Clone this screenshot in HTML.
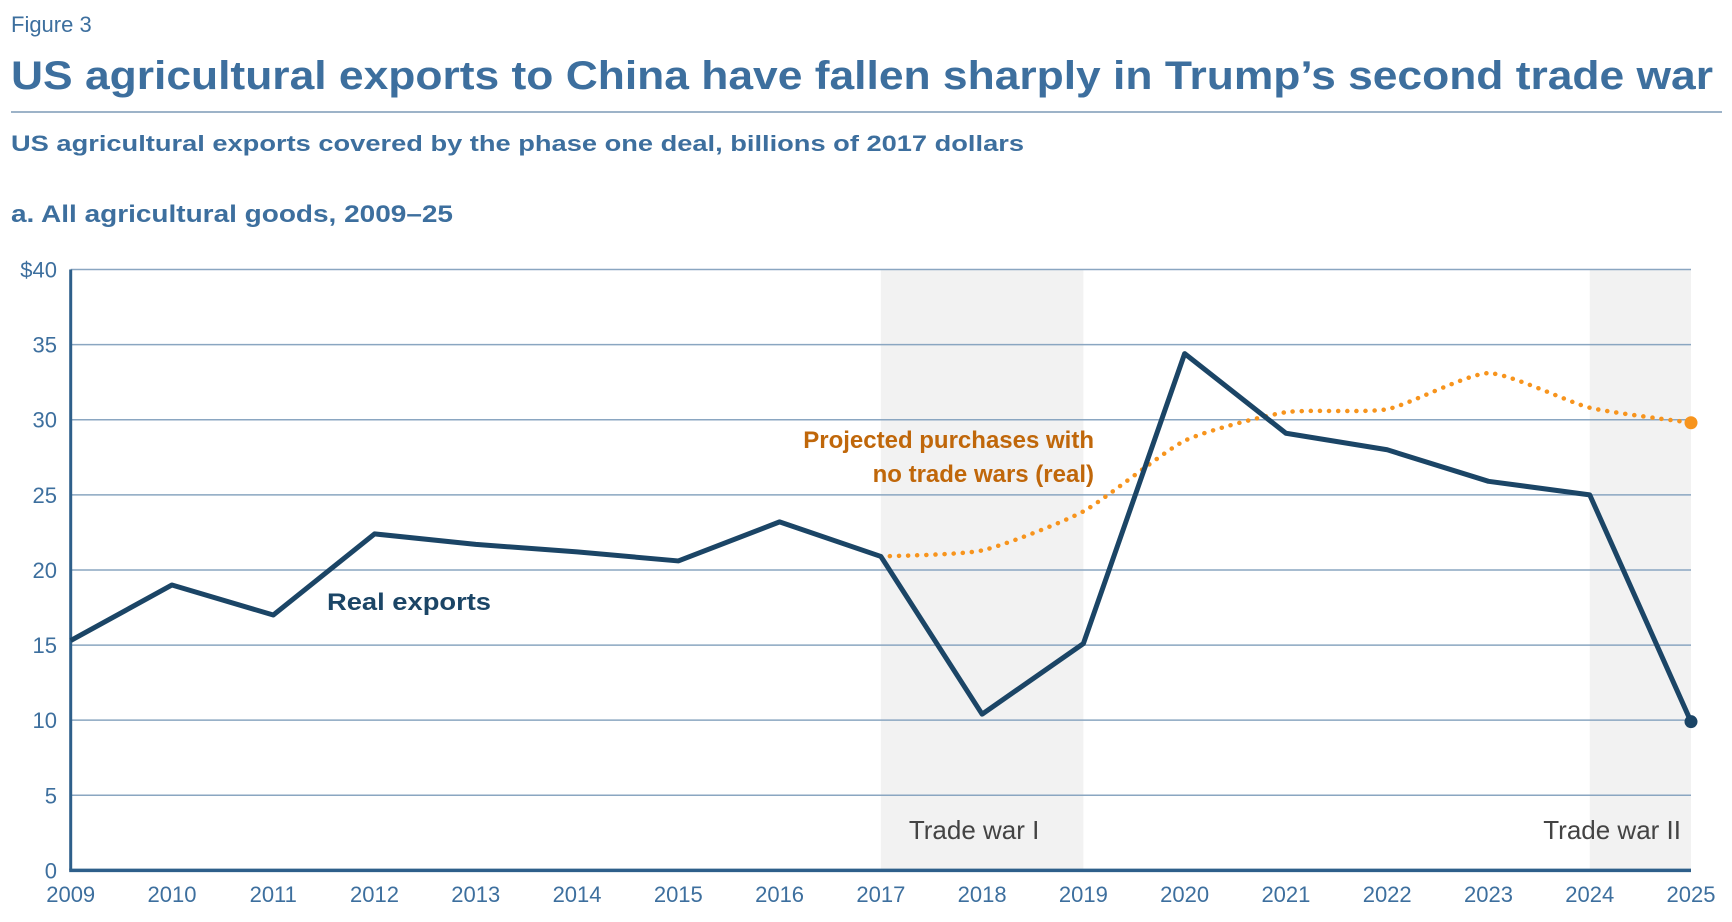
<!DOCTYPE html>
<html><head><meta charset="utf-8"><style>
html,body{margin:0;padding:0;background:#fff;}
svg{display:block;font-family:"Liberation Sans",sans-serif;}
</style></head><body>
<svg id="chart" width="1732" height="922" viewBox="0 0 1732 922">
<text x="11" y="32" font-size="22" fill="#3d6f9e">Figure 3</text>
<text x="11" y="89" font-size="40" font-weight="bold" fill="#3d6f9e" textLength="1702" lengthAdjust="spacingAndGlyphs">US agricultural exports to China have fallen sharply in Trump’s second trade war</text>
<line x1="11" y1="112" x2="1722" y2="112" stroke="#9db3c8" stroke-width="2"/>
<text x="11" y="151" font-size="22" font-weight="bold" fill="#3d6f9e" textLength="1013" lengthAdjust="spacingAndGlyphs">US agricultural exports covered by the phase one deal, billions of 2017 dollars</text>
<text x="11" y="222" font-size="24" font-weight="bold" fill="#3d6f9e" textLength="442" lengthAdjust="spacingAndGlyphs">a. All agricultural goods, 2009–25</text>
<g id="plot"></g>
</svg>
<script>
const years=[2009,2010,2011,2012,2013,2014,2015,2016,2017,2018,2019,2020,2021,2022,2023,2024,2025];
const realExports=[15.3,19.0,17.0,22.4,21.7,21.2,20.6,23.2,20.9,10.4,15.1,34.4,29.1,28.0,25.9,25.0,9.9];
const projYears=[2017,2018,2019,2020,2021,2022,2023,2024,2025];
const projected=[20.9,21.3,23.9,28.6,30.5,30.7,33.1,30.8,29.8];
const yTicks=[0,5,10,15,20,25,30,35,40];
const yTickLabels=["0","5","10","15","20","25","30","35","$40"];
const shades=[[2017,2019,"Trade war I"],[2024,2025,"Trade war II"]];

const L=70.7,R=1691,T=269.5,B=870.4;
const x=v=>L+(v-2009)/(2025-2009)*(R-L);
const y=v=>B-v/40*(B-T);
const NS="http://www.w3.org/2000/svg";
const g=document.getElementById('plot');
function mk(tag,attrs,text){const e=document.createElementNS(NS,tag);for(const k in attrs)e.setAttribute(k,attrs[k]);if(text!==undefined)e.textContent=text;g.appendChild(e);return e;}

shades.forEach(s=>{
 const r=mk('rect',{x:x(s[0]),y:T,width:x(s[1])-x(s[0]),height:B-T,fill:'#f2f2f2'});
 
 
});
yTicks.forEach((t,i)=>{
 if(t>0){const l=mk('line',{x1:L,x2:R,y1:y(t),y2:y(t),stroke:'#8aa6c1','stroke-width':1.5});
 
 }
 const tx=mk('text',{x:57,y:y(t)+8,'font-size':22,fill:'#3d6f9e','text-anchor':'end'},yTickLabels[i]);
 
 
});
years.forEach(yr=>{
 const tx=mk('text',{x:x(yr),y:902,'font-size':22,fill:'#3d6f9e','text-anchor':'middle'},String(yr));
 
 
});
const st=mk('text',{x:(x(2017)+x(2019))/2-8,y:839,'font-size':26,fill:'#444','text-anchor':'middle'},shades[0][2]);


const st2=mk('text',{x:x(2025)-10,y:839,'font-size':26,fill:'#444','text-anchor':'end'},shades[1][2]);



const ax=mk('line',{x1:L,x2:L,y1:T,y2:B,stroke:'#2e5f8a','stroke-width':3});


const bx=mk('line',{x1:L-1.5,x2:R,y1:B,y2:B,stroke:'#2e5f8a','stroke-width':3.5});



const pp=projYears.map((yr,i)=>[x(yr),y(projected[i])]);
let d='M'+pp[0][0]+','+pp[0][1];
const k=1/10;
for(let i=0;i<pp.length-1;i++){
 const p0=pp[Math.max(0,i-1)],p1=pp[i],p2=pp[i+1],p3=pp[Math.min(pp.length-1,i+2)];
 const c1=[p1[0]+(p2[0]-p0[0])*k,p1[1]+(p2[1]-p0[1])*k],c2=[p2[0]-(p3[0]-p1[0])*k,p2[1]-(p3[1]-p1[1])*k];
 d+=' C'+c1+' '+c2+' '+p2;
}
const pl=mk('path',{d:d,fill:'none',stroke:'#f7941d','stroke-width':4.5,'stroke-dasharray':'0.1 9','stroke-linecap':'round'});


const pe=mk('circle',{cx:pp[pp.length-1][0],cy:pp[pp.length-1][1],r:6.5,fill:'#f7941d'});



const rl=mk('polyline',{points:years.map((yr,i)=>x(yr)+','+y(realExports[i])).join(' '),fill:'none',stroke:'#1b4566','stroke-width':5,'stroke-linejoin':'round'});


const re=mk('circle',{cx:x(2025),cy:y(realExports[realExports.length-1]),r:6.5,fill:'#1b4566'});



const a1=mk('text',{x:327,y:610,'font-size':24,'font-weight':'bold',fill:'#1b4566',textLength:164,lengthAdjust:'spacingAndGlyphs'},'Real exports');


const a2=mk('text',{x:1094,y:448,'font-size':24,'font-weight':'bold',fill:'#c0670a','text-anchor':'end'},'Projected purchases with');


const a3=mk('text',{x:1094,y:482,'font-size':24,'font-weight':'bold',fill:'#c0670a','text-anchor':'end'},'no trade wars (real)');


</script>
</body></html>
